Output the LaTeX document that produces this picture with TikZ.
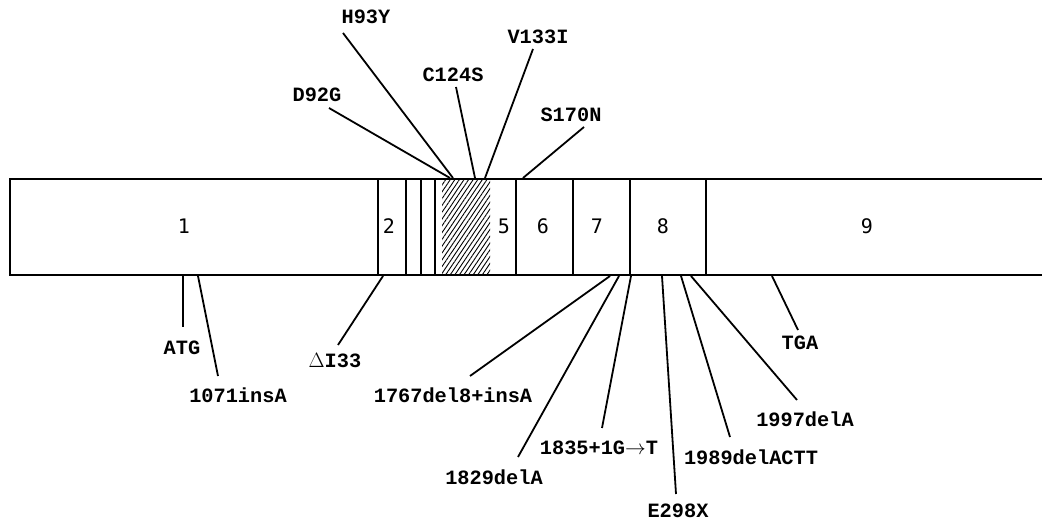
\documentclass[tikz,border=0pt]{standalone}
\usepackage{fontspec}
\setmainfont{DejaVu Sans Mono}
\setmonofont{Liberation Mono}
\usetikzlibrary{patterns.meta}
\begin{document}
\begin{tikzpicture}[x=1pt,y=-1pt,
  mut/.style={font=\ttfamily\bfseries\fontsize{20.3}{22}\selectfont, inner sep=0pt},
  exon/.style={font=\fontsize{20}{22}\selectfont, inner sep=0pt},
  bar/.style={line width=2pt},
  sep/.style={line width=1.3pt},
  lead/.style={line width=1.8pt}]
\useasboundingbox (0,0) rectangle (1042,521);
% bar
\draw[bar] (1042,179) -- (10,179) -- (10,275) -- (1042,275);
\fill[pattern={Lines[angle=56,distance=3.8pt,line width=0.9pt]}] (442,180) rectangle (490,274);
\foreach \x in {378,406,421,435,516,573,630,706}
  \draw[sep] (\x,179) -- (\x,275);
% exon numbers
\node[exon] (e1) at (184,226) {1};
\node[exon] (e2) at (389,226) {2};
\node[exon] (e5) at (504,226) {5};
\node[exon] (e6) at (543,226) {6};
\node[exon] (e7) at (597,226) {7};
\node[exon] (e8) at (663,226) {8};
\node[exon] (e9) at (867,226) {9};
% top labels
\node[mut] (h93y) at (366,17) {H93Y};
\node[mut] (d92g) at (317,95) {D92G};
\node[mut] (c124s) at (453,75) {C124S};
\node[mut] (v133i) at (538,37) {V133I};
\node[mut] (s170n) at (571,115) {S170N};
\coordinate (h93ya) at (343,33);  \coordinate (h93yb) at (453,178);
\coordinate (d92ga) at (329,108); \coordinate (d92gb) at (450,178);
\coordinate (c124sa) at (456,87); \coordinate (c124sb) at (475,178);
\coordinate (v133ia) at (533,49); \coordinate (v133ib) at (485,178);
\coordinate (s170na) at (584,127); \coordinate (s170nb) at (523,178);
\foreach \m in {h93y,d92g,c124s,v133i,s170n}
  \draw[lead] (\m a) -- (\m b);
% bottom labels
\node[mut] (atg) at (182,348) {ATG};
\node[mut] (ins) at (238,395) {1071insA};
\node[mut] (di) at (335,361) {$\Delta$I33};
\node[mut] (del8) at (453,395) {1767del8+insA};
\node[mut] (d1829) at (494,477) {1829delA};
\node[mut] (g1835) at (599,448) {1835+1G$\rightarrow$T};
\node[mut] (e298) at (678,511) {E298X};
\node[mut] (d1989) at (751,457) {1989delACTT};
\node[mut] (d1997) at (805,419) {1997delA};
\node[mut] (tga) at (800,343) {TGA};
\coordinate (atga) at (183,276);  \coordinate (atgb) at (183,327);
\coordinate (insa) at (198,276);  \coordinate (insb) at (218,376);
\coordinate (dia) at (383,276);   \coordinate (dib) at (338,345);
\coordinate (del8a) at (610,276); \coordinate (del8b) at (470,376);
\coordinate (d1829a) at (619,276); \coordinate (d1829b) at (518,457);
\coordinate (g1835a) at (631,276); \coordinate (g1835b) at (602,428);
\coordinate (e298a) at (662,276); \coordinate (e298b) at (676,494);
\coordinate (d1989a) at (681,276); \coordinate (d1989b) at (730,437);
\coordinate (d1997a) at (691,276); \coordinate (d1997b) at (797,400);
\coordinate (tgaa) at (772,276); \coordinate (tgab) at (798,330);
\foreach \m in {atg,ins,di,del8,d1829,g1835,e298,d1989,d1997,tga}
  \draw[lead] (\m a) -- (\m b);
\end{tikzpicture}
\end{document}
